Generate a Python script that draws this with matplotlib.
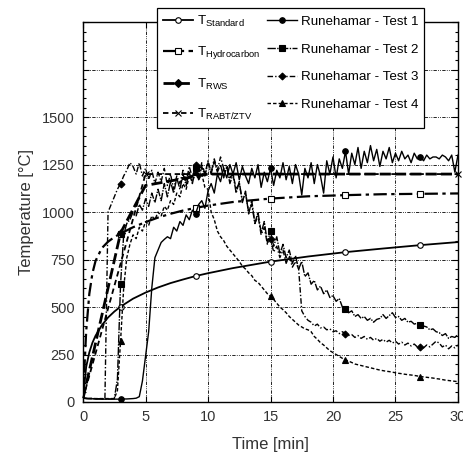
import numpy as np
import matplotlib
matplotlib.use('Agg')
import matplotlib.pyplot as plt
from matplotlib.ticker import MultipleLocator

plt.rcParams['font.family'] = ['Liberation Sans', 'DejaVu Sans']
plt.rcParams['mathtext.default'] = 'regular'

# --- design fire curves ---
t_design = [0, 0.25, 0.5, 0.75, 1, 1.5, 2, 2.5, 3, 4, 5, 6, 7, 8, 9, 10, 12, 15, 18, 21, 24, 27, 30]
T_standard = [20, 185, 261, 312, 349, 404, 445, 476, 502, 544, 576, 603, 626, 645, 663, 678,
              705, 739, 766, 789, 808, 826, 842]
T_hydrocarbon = [20, 373, 569, 678, 743, 810, 844, 868, 887, 920, 947, 971, 991, 1008, 1022, 1034,
                 1053, 1071, 1083, 1089, 1094, 1096, 1098]
t_rws = [0, 3, 5, 10, 30]
T_rws = [20, 890, 1140, 1200, 1200]
t_rabt = [0, 5, 30]
T_rabt = [20, 1200, 1200]

# --- Runehamar measurements, sampled every 0.25 min from 0 to 30 ---
t_test = np.linspace(0, 30, 121)
test1 = [20, 18, 17, 17, 16, 16, 15, 15, 15, 15, 15, 15, 15, 16, 16, 17, 18, 20, 28, 110,
         240, 370, 600, 760, 800, 840, 856, 870, 860, 920, 900, 950, 930, 985, 960, 1010,
         990, 1040, 1060, 1020, 1110, 1150, 1100, 1200, 1160, 1230, 1180, 1250, 1200, 1260,
         1170, 1240, 1190, 1150, 1230, 1180, 1250, 1130, 1210, 1160, 1230, 1140, 1220, 1180,
         1260, 1170, 1240, 1150, 1250, 1200, 1090, 1230, 1180, 1260, 1150, 1250, 1190, 1100,
         1270, 1200, 1290, 1180, 1280, 1230, 1320, 1200, 1310, 1250, 1340, 1230, 1320, 1260,
         1350, 1270, 1330, 1240, 1320, 1280, 1340, 1260, 1310, 1270, 1320, 1280, 1300, 1260,
         1310, 1280, 1290, 1270, 1300, 1280, 1290, 1290, 1280, 1300, 1290, 1270, 1300, 1210, 1300]
test2 = [20, 19, 18, 18, 17, 17, 16, 16, 16, 16, 17, 120, 620, 880, 940, 960, 1000, 980,
         1040, 1010, 1070, 1030, 1100, 1050, 1120, 1060, 1150, 1080, 1160, 1100, 1180, 1120,
         1200, 1140, 1210, 1150, 1230, 1170, 1240, 1190, 1260, 1200, 1270, 1210, 1250, 1180,
         1240, 1150, 1200, 1100, 1160, 1050, 1110, 990, 1060, 940, 1000, 890, 950, 840, 900,
         820, 870, 780, 830, 760, 800, 730, 770, 700, 740, 660, 680, 620, 640, 590, 610, 570,
         590, 550, 560, 530, 545, 500, 490, 470, 480, 450, 460, 440, 450, 430, 440, 420, 435,
         440, 460, 440, 455, 470, 445, 450, 430, 440, 420, 425, 410, 415, 405, 400, 395, 380,
         385, 370, 365, 350, 360, 335, 345, 340, 355]
test3 = [20, 19, 18, 18, 17, 17, 17, 18, 1000, 1040, 1080, 1120, 1150, 1190, 1220, 1260,
         1240, 1200, 1260, 1190, 1230, 1170, 1220, 1150, 1210, 1160, 1230, 1140, 1200, 1120,
         1190, 1150, 1220, 1160, 1240, 1180, 1250, 1190, 1260, 1200, 1270, 1210, 1280, 1220,
         1290, 1230, 1250, 1180, 1200, 1120, 1150, 1060, 1100, 1000, 1040, 940, 980, 880, 920,
         830, 860, 790, 820, 760, 800, 730, 770, 710, 740, 700, 480, 450, 430, 420, 400, 410,
         390, 395, 380, 385, 370, 375, 360, 370, 360, 350, 355, 340, 350, 335, 345, 330, 340,
         325, 335, 320, 330, 315, 325, 310, 320, 305, 315, 300, 310, 295, 305, 290, 292, 285,
         300, 290, 305, 320, 310, 290, 300, 280, 295, 285, 300]
test4 = [20, 19, 19, 19, 18, 18, 18, 18, 18, 18, 18, 60, 320, 600, 760, 830, 880, 860, 920,
         900, 950, 930, 980, 960, 1000, 980, 1030, 1010, 1060, 1040, 1100, 1080, 1150, 1120,
         1190, 1160, 1210, 1170, 1200, 1130, 1120, 1000, 960, 900, 870, 850, 820, 800, 780,
         760, 740, 715, 700, 680, 665, 640, 630, 610, 590, 570, 556, 540, 520, 500, 486, 470,
         450, 435, 420, 405, 395, 385, 380, 370, 345, 330, 312, 300, 285, 270, 260, 250, 240,
         230, 222, 215, 208, 200, 196, 192, 188, 184, 180, 176, 172, 168, 165, 162, 160, 157,
         154, 151, 149, 146, 144, 142, 140, 137, 134, 132, 130, 128, 126, 123, 121, 118, 115,
         113, 111, 109, 107]

fig = plt.figure(figsize=(4.64, 4.61), dpi=100)
ax = fig.add_axes([0.179, 0.128, 0.808, 0.824])

mk = dict(markeredgecolor='black', markeredgewidth=0.8)
ax.plot(t_design, T_standard, color='black', lw=1.3, marker='o', ms=4,
        markerfacecolor='white', markevery=[8, 14, 17, 19, 21], label='$T_{Standard}$', **mk)
ax.plot(t_design, T_hydrocarbon, color='black', lw=1.6, dashes=(6, 2, 1.5, 2), marker='s', ms=4.5,
        markerfacecolor='white', markevery=[8, 14, 17, 19, 21], label='$T_{Hydrocarbon}$', **mk)
ax.plot(t_rws, T_rws, color='black', lw=2.0, dashes=(4, 1.5), marker='D', ms=4,
        markerfacecolor='black', markevery=[1], label='$T_{RWS}$', **mk)
ax.plot(t_rabt, T_rabt, color='black', lw=1.3, dashes=(3, 2), marker='x', ms=5,
        markevery=[1, 2], clip_on=False, label='$T_{RABT/ZTV}$', **mk)

me = (12, 24)
ax.plot(t_test, test1, color='black', lw=1.0, marker='o', ms=4, markerfacecolor='black',
        markevery=me, label='Runehamar - Test 1', **mk)
ax.plot(t_test, test2, color='black', lw=1.0, dashes=(6, 1, 1, 1), marker='s', ms=4.5,
        markerfacecolor='black', markevery=me, label='Runehamar - Test 2', **mk)
ax.plot(t_test, test3, color='black', lw=1.0, dashes=(4, 1.5, 1, 1.5), marker='D', ms=3.5,
        markerfacecolor='black', markevery=me, label='Runehamar - Test 3', **mk)
ax.plot(t_test, test4, color='black', lw=1.0, dashes=(2.5, 1.5), marker='^', ms=4,
        markerfacecolor='black', markevery=me, label='Runehamar - Test 4', **mk)

ax.set_xlim(0, 30)
ax.set_ylim(0, 2000)
ax.set_xticks(range(0, 31, 5))
ax.set_yticks(range(0, 2001, 250))
ax.set_yticklabels([str(v) if v <= 1500 else '' for v in range(0, 2001, 250)])
ax.yaxis.set_minor_locator(MultipleLocator(50))
ax.tick_params(which='both', direction='in', top=True, right=True, colors='black',
               labelcolor='#333333', labelsize=10.5, width=0.8)
ax.tick_params(which='major', length=4, pad=6)
ax.tick_params(which='minor', length=2.5)
ax.grid(True, which='major', color='black', lw=0.6, dashes=(4, 1.5, 1, 1.5, 1, 1.5))
for s in ax.spines.values():
    s.set_linewidth(1.0)

ax.set_xlabel('Time [min]', fontsize=12, color='#333333', labelpad=9)
ax.set_ylabel('Temperature [°C]', fontsize=12, color='#333333', labelpad=6)

# legend sits partly above the axes, like the original
leg = ax.legend(loc='upper left', bbox_to_anchor=(0.338, 0.983), bbox_transform=fig.transFigure,
                borderaxespad=0, ncol=2, fontsize=9.6, frameon=True, fancybox=False,
                framealpha=1, edgecolor='black', handlelength=2.3, labelspacing=1.15,
                columnspacing=0.5, handletextpad=0.25, borderpad=0.45)
leg.get_frame().set_linewidth(0.9)
leg.set_zorder(5)

fig.savefig('out.png', dpi=100)
